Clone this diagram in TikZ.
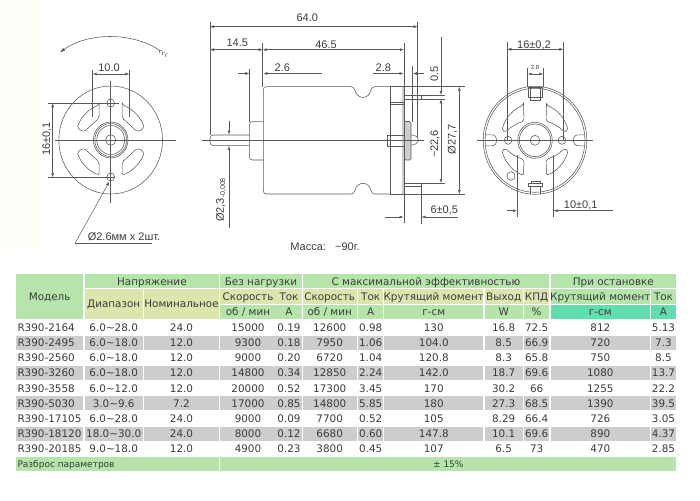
\documentclass[tikz,border=0pt]{standalone}
\usepackage{fontspec}
\setmainfont{Liberation Sans}
\newfontfamily\tabfont{DejaVu Sans}
\usetikzlibrary{arrows.meta}
\definecolor{lgreen}{HTML}{B5E5AA}
\definecolor{khaki}{HTML}{DDE5AE}
\definecolor{teal}{HTML}{60DFAE}
\definecolor{rowgray}{HTML}{CDCDCD}
\definecolor{inkline}{HTML}{5A5A5A}
\definecolor{inktext}{HTML}{3C3C3C}
\definecolor{paleyel}{HTML}{FFFFFA}
\tikzset{
	part/.style={draw=inkline, line width=0.55pt},
	thinline/.style={draw=inkline, line width=0.45pt},
	dimtip/.style={-{Latex[length=4pt,width=3pt]}, draw=inkline, line width=0.5pt},
	dimboth/.style={{Latex[length=4pt,width=3pt]}-{Latex[length=4pt,width=3pt]}, draw=inkline, line width=0.5pt},
	dimtext/.style={inktext, font=\fontsize{11}{11}\selectfont, inner sep=0pt},
	tabtext/.style={inktext, font=\tabfont\fontsize{10.4}{11}\selectfont, inner sep=0pt, text height=7.6pt, text depth=0pt}
}
\newcommand{\hcell}[7]{\fill[#2] (#3,#4) rectangle (#5,#6) node[midway, tabtext] (#1) {#7};}
\newcommand{\tld}{\textasciitilde}
\def\colL{{16,84.7,144,220.3,276.3,302.7,358,384.3,484.7,524,550.7,651}}
\def\colR{{83.3,142.7,219,275.7,301.7,356.7,383.3,483.3,522.7,549.3,650,676}}
\begin{document}
\begin{tikzpicture}[x=1pt, y=-1pt]
	\useasboundingbox (0,0) rectangle (700,500);
	\fill[white] (0,0) rectangle (700,500);
	\fill[paleyel] (0,0) rectangle (37,250);
	\fill[paleyel] (0,250) rectangle (3,480);

	% left view
	\begin{scope}[shift={(110.7,140)}, xscale=.96]
		\draw[part] (0,0) circle (54pt);
		\draw[part] (0,0) circle (18pt) (0,0) circle (16.5pt) (0,0) circle (14.5pt);
		\draw[part] (0,0) circle (5.3pt);
		\draw[part] (0,-37) circle (4pt) (0,37) circle (4pt);
		\foreach \sx/\sy in {1/1,-1/1,1/-1,-1/-1}
			\draw[part, xscale=\sx, yscale=\sy, rounded corners=2pt] (-12,-35) -- (-12,-22) -- (-28,-8) -- (-35,-12) .. controls (-31.3,-22.8) and (-22.8,-31.3) .. (-12,-35) -- cycle;
	\end{scope}
	\draw[thinline] (55,140) -- (176,140);
	\draw[thinline] (110.7,81) -- (110.7,203);
	\draw[part, -{Latex[length=5pt,width=3.5pt]}] (160,50.7) .. controls (135,33) and (90,31) .. (60,52.3);
	\foreach \k in {0,1,2}
		\draw[part] (162.3+2.8*\k,50.2+1.8*\k) -- (159.5+2.8*\k,50.5+1.8*\k) -- (159.8+2.8*\k,53.3+1.8*\k);
	% 10.0
	\draw[thinline] (92.7,70) -- (92.7,117);
	\draw[thinline] (129.3,70) -- (129.3,117);
	\draw[dimboth] (92.7,74) -- (129.3,74);
	\node[dimtext] (dimten) at (109,67.5) {10.0};
	% 16
	\draw[thinline] (48,103.3) -- (119,103.3);
	\draw[thinline] (48,177.3) -- (115,177.3);
	\draw[dimboth] (52.7,103.3) -- (52.7,177.3);
	\node[dimtext, rotate=90] (dimsixteen) at (47,139) {16±0,1};
	% hole leader
	\coordinate (lead0) at (109.3,181.7);
	\coordinate (lead1) at (75,243.3);
	\coordinate (lead2) at (151.7,243.3);
	\draw[dimtip] (lead1) -- (lead0);
	\draw[thinline] (lead1) -- (lead2);
	\node[dimtext] (holetext) at (124,236.7) {Ø2.6мм x 2шт.};

	% side view
	\draw[part, rounded corners=3pt] (390.7,86.7) -- (371.7,86.7) .. controls (369,100) and (357,100) .. (354,86.7) -- (263.3,86.7) -- (263.3,194) -- (354,194) .. controls (357,180.7) and (369,180.7) .. (371.7,194) -- (390.7,194);
	\draw[part, rounded corners=3pt] (263.3,121.7) -- (249.3,121.7) -- (249.3,160) -- (263.3,160);
	\draw[part, rounded corners=3.5pt] (249.3,135) -- (210,135) -- (210,145.7) -- (249.3,145.7);
	\draw[part] (390.7,86.7) rectangle (404,194);
	\fill[rowgray] (401.5,86.7) rectangle (404.3,194);
	\draw[part] (390.7,102) -- (404,102) (390.7,104.5) -- (404,104.5);
	\draw[part] (387.7,135) rectangle (404,146);
	\draw[part, fill=rowgray, rounded corners=1.5pt] (404.3,121.5) rectangle (411,160);
	\draw[part] (411,135) .. controls (415,135) and (418.3,137) .. (418.3,140) .. controls (418.3,143) and (415,145) .. (411,145);
	\draw[part] (404,95) rectangle (421.5,99.3);
	\draw[part] (404,183) rectangle (421,186);
	\draw[thinline] (201.7,140) -- (424,140);
	% 64.0
	\draw[thinline] (210,22) -- (210,135);
	\draw[thinline] (417.7,22) -- (417.7,137);
	\draw[dimboth] (210,26.7) -- (417.7,26.7);
	\node[dimtext] (dimall) at (307.3,17.5) {64.0};
	% 14.5 and 46.5
	\draw[thinline] (262.7,43) -- (262.7,87);
	\draw[thinline] (404,43) -- (404,223);
	\draw[dimboth] (210,49.7) -- (262.7,49.7);
	\draw[dimboth] (262.7,49.7) -- (404,49.7);
	\node[dimtext] (dimfront) at (237.3,43) {14.5};
	\node[dimtext] (dimbody) at (326,44.5) {46.5};
	% 2.6
	\draw[thinline] (249.3,69) -- (249.3,122);
	\draw[dimtip] (237.5,73.5) -- (249.3,73.5);
	\draw[dimtip] (321.7,73.5) -- (263.3,73.5);
	\node[dimtext] (dimboss) at (282.3,67.5) {2.6};
	% 2.8
	\draw[dimtip] (372.7,73.5) -- (403.5,73.5);
	\node[dimtext] (dimcap) at (383.3,68) {2.8};
	% 0.5
	\draw[thinline] (412,66) -- (412,122);
	\draw[dimtip] (424,73.5) -- (413,73.5);
	\node[dimtext, rotate=90] (dimtipo) at (434.3,74) {0.5};
	% 22.6
	\draw[thinline] (421.5,95) -- (445,95);
	\draw[thinline] (421.5,99.3) -- (445,99.3);
	\draw[thinline] (421,183) -- (445,183);
	\draw[dimtip] (441,37) -- (441,95);
	\draw[dimboth] (441,99.3) -- (441,183);
	\node[dimtext, rotate=90] (dimterm) at (435,144) {\textasciitilde 22,6};
	% 27.7
	\draw[thinline] (404,86.7) -- (465,86.7);
	\draw[thinline] (404,194) -- (465,194);
	\draw[dimboth] (459.3,86.7) -- (459.3,194);
	\node[dimtext, rotate=90] (dimdia) at (452.3,139.5) {Ø27,7};
	% 6
	\draw[thinline] (421,186) -- (421,224);
	\draw[dimtip] (385,217) -- (403.5,217);
	\draw[dimtip] (458.3,217) -- (421.5,217);
	\node[dimtext] (dimsix) at (444.3,210.5) {6±0,5};
	% shaft
	\draw[dimtip] (229,120.7) -- (229,134.5);
	\draw[dimtip] (229,228.3) -- (229,146);
	\node[dimtext, rotate=90, anchor=west] (dimshaft) at (221,222) {Ø2,3\raisebox{-1.2pt}{\fontsize{7}{7}\selectfont -0,008}};
	\node[dimtext] (masstext) at (325,247) {Масса:\ \ \ \textasciitilde 90г.};

	% right view
	\begin{scope}[shift={(535,140.3)}, xscale=.96]
		\draw[part] (0,0) circle (54pt) (0,0) circle (52pt);
		\draw[part] (0,0) circle (18pt) (0,0) circle (16.3pt);
		\draw[part] (0,0) circle (5pt);
		\draw[part] (-28,0) circle (4pt) (28,0) circle (4pt);
		\draw[part] (-25,35.7) circle (4.3pt);
		\foreach \sx/\sy in {1/1,-1/1,1/-1,-1/-1}
			\draw[part, xscale=\sx, yscale=\sy, rounded corners=2pt] (-12,-35) -- (-11.5,-19) .. controls (-18,-17.5) and (-26,-13) .. (-30.5,-8) -- (-34.5,-10) .. controls (-31.3,-22) and (-22.8,-31) .. (-12,-35) -- cycle;
		\foreach \sx in {1,-1}
			\draw[part, xscale=\sx] (-51,-5.5) -- (-45,-5.5) .. controls (-38,-5.5) and (-38,5.5) .. (-45,5.5) -- (-51,5.5);
		% terminals
		\draw[part] (-7.5,-53) rectangle (7.5,-43);
		\draw[part] (-5,-53) -- (-5,-43) (5,-53) -- (5,-43);
		\draw[part] (-5,-43) rectangle (5,-40);
		\draw[part] (-7.5,43) rectangle (7.5,45.5);
		\draw[part] (-3.5,40.5) rectangle (5,43);
		\draw[part] (-5,45.5) -- (-5,53.5) (6,45.5) -- (6,53.5);
	\end{scope}
	\draw[thinline] (477.3,140.3) -- (593.3,140.3);
	% 16 and 2.8
	\draw[thinline] (507.3,42.5) -- (507.3,140);
	\draw[thinline] (563.3,42.5) -- (563.3,140);
	\draw[dimboth] (507.3,49.3) -- (563.3,49.3);
	\node[dimtext] (dimholes) at (534,45) {16±0,2};
	\draw[thinline] (527.7,68.3) -- (527.7,87);
	\draw[thinline] (543.3,68.3) -- (543.3,87);
	\draw[dimboth] (527.7,74) -- (543.3,74);
	\node[dimtext, font=\fontsize{6}{6}\selectfont] (dimtab) at (535,67.5) {2.8};
	% 10
	\draw[thinline] (517.3,155) -- (517.3,216.7);
	\draw[thinline] (553.3,155) -- (553.3,216.7);
	\draw[dimtip] (507.3,210.7) -- (517,210.7);
	\draw[dimtip] (612.7,210.7) -- (553.6,210.7);
	\node[dimtext] (dimhub) at (580.7,205) {10±0,1};

	% table head
	\begin{scope}
		\hcell{model}{lgreen}{16}{274.3}{83.3}{319}{Модель}
		\hcell{volt}{lgreen}{84.7}{274.3}{219}{288.3}{Напряжение}
		\hcell{idle}{lgreen}{220.3}{274.3}{301.7}{288.3}{Без нагрузки}
		\hcell{best}{lgreen}{302.7}{274.3}{549.3}{288.3}{С максимальной эффективностью}
		\hcell{stall}{lgreen}{550.7}{274.3}{676}{288.3}{При остановке}
		\hcell{range}{khaki}{84.7}{289.3}{142.7}{319}{Диапазон}
		\hcell{nominal}{khaki}{144}{289.3}{219}{319}{Номинальное}
		\hcell{speeda}{khaki}{220.3}{289.3}{275.7}{304}{Скорость}
		\hcell{cura}{khaki}{276.3}{289.3}{301.7}{304}{Ток}
		\hcell{speedb}{khaki}{302.7}{289.3}{356.7}{304}{Скорость}
		\hcell{curb}{khaki}{358}{289.3}{383.3}{304}{Ток}
		\hcell{torqb}{khaki}{384.3}{289.3}{483.3}{304}{Крутящий момент}
		\hcell{output}{khaki}{484.7}{289.3}{522.7}{304}{Выход}
		\hcell{effic}{khaki}{524}{289.3}{549.3}{304}{КПД}
		\hcell{torqc}{lgreen}{550.7}{289.3}{650}{304}{Крутящий момент}
		\hcell{curc}{lgreen}{651}{289.3}{676}{304}{Ток}
		\hcell{speedau}{lgreen}{220.3}{305}{275.7}{319}{об / мин}
		\hcell{curau}{lgreen}{276.3}{305}{301.7}{319}{А}
		\hcell{speedbu}{lgreen}{302.7}{305}{356.7}{319}{об / мин}
		\hcell{curbu}{lgreen}{358}{305}{383.3}{319}{А}
		\hcell{torqbu}{lgreen}{384.3}{305}{483.3}{319}{г-см}
		\hcell{outu}{lgreen}{484.7}{305}{522.7}{319}{W}
		\hcell{efficu}{lgreen}{524}{305}{549.3}{319}{\%}
		\hcell{torqcu}{teal}{550.7}{305}{650}{319}{г-см}
		\hcell{curcu}{teal}{651}{305}{676}{319}{А}
	\end{scope}

	% table body
	\foreach \vals [count=\i from 0] in {
		{R390-2164,6.0\tld 28.0,24.0,15000,0.19,12600,0.98,130,16.8,72.5,812,5.13},
		{R390-2495,6.0\tld 18.0,12.0,9300,0.18,7950,1.06,104.0,8.5,66.9,720,7.3},
		{R390-2560,6.0\tld 18.0,12.0,9000,0.20,6720,1.04,120.8,8.3,65.8,750,8.5},
		{R390-3260,6.0\tld 18.0,12.0,14800,0.34,12850,2.24,142.0,18.7,69.6,1080,13.7},
		{R390-3558,6.0\tld 12.0,12.0,20000,0.52,17300,3.45,170,30.2,66,1255,22.2},
		{R390-5030,3.0\tld 9.6,7.2,17000,0.85,14800,5.85,180,27.3,68.5,1390,39.5},
		{R390-17105,6.0\tld 28.0,24.0,9000,0.09,7700,0.52,105,8.29,66.4,726,3.05},
		{R390-18120,18.0\tld 30.0,24.0,8000,0.12,6680,0.60,147.8,10.1,69.6,890,4.37},
		{R390-20185,9.0\tld 18.0,12.0,4900,0.23,3800,0.45,107,6.5,73,470,2.85}} {
		\pgfmathsetmacro{\rowy}{327.7+15.15*\i}
		\foreach \val [count=\col from 0] in \vals {
			\pgfmathsetmacro{\xl}{\colL[\col]}
			\pgfmathsetmacro{\xr}{\colR[\col]}
			\ifodd\i\relax
				\fill[rowgray] (\xl,\rowy-7) rectangle (\xr,\rowy+7);
			\fi
			\ifnum\col=0\relax
				\node[tabtext, anchor=west] (cell-\i-\col) at (\xl+1.3,\rowy) {\val};
			\else
				\node[tabtext] (cell-\i-\col) at ({(\xl+\xr)/2},\rowy) {\val};
			\fi
		}
	}

	% table foot
	\fill[lgreen] (16,457) rectangle (219,471);
	\fill[lgreen] (220.3,457) rectangle (676,471);
	\node[tabtext, anchor=west, font=\tabfont\fontsize{9}{10}\selectfont, text height=6pt] (spreadlabel) at (17.3,464) {Разброс параметров};
	\node[tabtext, font=\tabfont\fontsize{9}{10}\selectfont, text height=6pt] (spreadvalue) at (448.3,464) {± 15\%};
\end{tikzpicture}
\end{document}
